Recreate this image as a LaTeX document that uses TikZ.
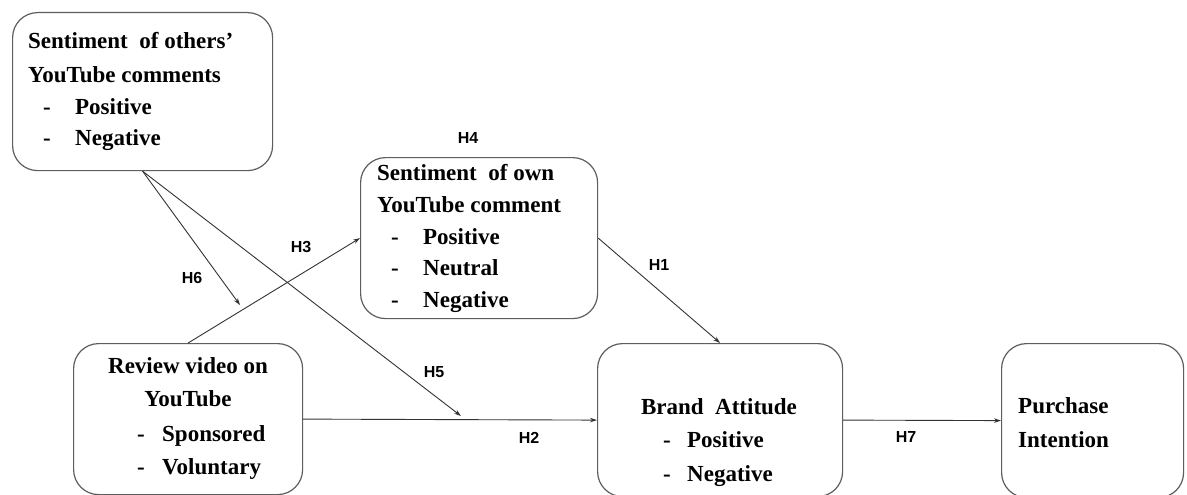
\documentclass[tikz,border=0pt]{standalone}
\usepackage{fontspec}
\setmainfont{Liberation Serif}
\newfontfamily\hsans{Liberation Sans}
\usetikzlibrary{arrows.meta}
\definecolor{boxgray}{HTML}{5E5E5E}
\definecolor{linegray}{HTML}{333333}
\tikzset{
  box/.style={draw=boxgray, line width=1.2pt, rounded corners=25pt, inner sep=0pt, anchor=north west},
  txt/.style={anchor=base west, inner sep=0pt, font=\fontsize{23}{32}\selectfont\bfseries},
  ctxt/.style={anchor=base, inner sep=0pt, font=\fontsize{23}{32}\selectfont\bfseries},
  hlab/.style={inner sep=0pt, font=\hsans\bfseries\fontsize{16}{18}\selectfont},
  arr/.style={draw=linegray, line width=0.9pt, -{Stealth[length=7pt,width=4.5pt]}},
}
\newcommand{\itm}[2]{\makebox[#1][l]{-}#2}
\begin{document}
\begin{tikzpicture}[x=1pt, y=-1pt]
\useasboundingbox (0,0) rectangle (1187,495);
\fill[white] (0,0) rectangle (1187,495);
% boxes
\node[box, minimum width=260pt, minimum height=158pt] (others) at (12,12) {};
\node[box, minimum width=237pt, minimum height=161pt] (own) at (360,157) {};
\node[box, minimum width=229pt, minimum height=151pt] (review) at (73,343) {};
\node[box, minimum width=245pt, minimum height=153pt] (brand) at (597,343) {};
\node[box, minimum width=182pt, minimum height=154pt] (purchase) at (1001,343) {};
% texts box 1
\node[txt] (o1) at (28,49) {Sentiment\ \ of others’};
\node[txt] (o2) at (28,82) {YouTube comments};
\node[txt] (o3) at (43,114) {\itm{32pt}{Positive}};
\node[txt] (o4) at (43,145) {\itm{32pt}{Negative}};
% texts box 2
\node[txt] (w1) at (377,180) {Sentiment\ \ of own};
\node[txt] (w2) at (377,212) {YouTube comment};
\node[txt] (w3) at (391,244) {\itm{32pt}{Positive}};
\node[txt] (w4) at (391,275) {\itm{32pt}{Neutral}};
\node[txt] (w5) at (391,307) {\itm{32pt}{Negative}};
% texts box 3
\node[ctxt] (r1) at (188,373) {Review video on};
\node[ctxt] (r2) at (188,406) {YouTube};
\node[txt] (r3) at (137,441) {\itm{25pt}{Sponsored}};
\node[txt] (r4) at (137,474) {\itm{25pt}{Voluntary}};
% texts box 4
\node[ctxt] (b1) at (719,414) {Brand\ \ Attitude};
\node[txt] (b2) at (663,447) {\itm{24pt}{Positive}};
\node[txt] (b3) at (663,481) {\itm{24pt}{Negative}};
% texts box 5
\node[txt] (p1) at (1018,413) {Purchase};
\node[txt] (p2) at (1018,447) {Intention};
% free ends
\coordinate (h6end) at (240,305);
\coordinate (h5end) at (461,416);
% connectors
\draw[arr] (review.north) -- (own.west);
\draw[arr] (own.east) -- (brand.north);
\draw[arr] (review.east) -- (brand.west);
\draw[arr] (brand.east) -- (purchase.west);
\draw[arr] (others.south) -- (h6end);
\draw[arr] (others.south) -- (h5end);
% labels
\node[hlab] (H4) at (468,138) {H4};
\node[hlab] (H3) at (301,247) {H3};
\node[hlab] (H6) at (192,278) {H6};
\node[hlab] (H5) at (434,372) {H5};
\node[hlab] (H2) at (529,438) {H2};
\node[hlab] (H1) at (659,265) {H1};
\node[hlab] (H7) at (906,437) {H7};
\end{tikzpicture}
\end{document}
